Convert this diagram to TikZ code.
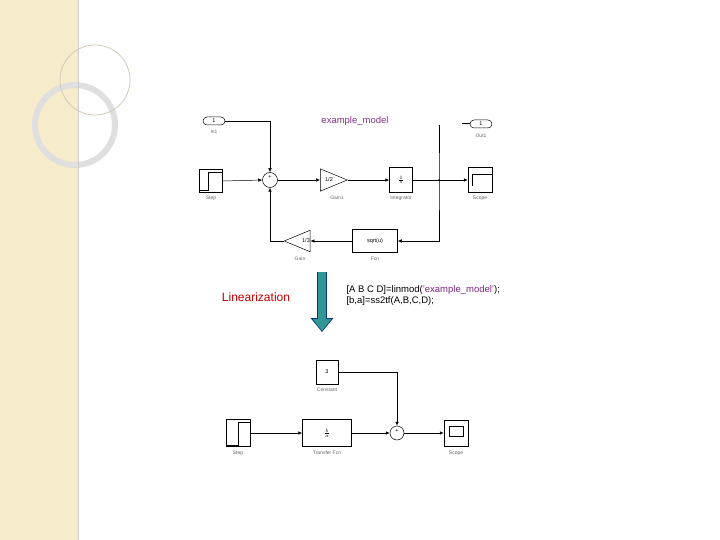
\documentclass[tikz,border=0pt]{standalone}
\usepackage{fontspec}
\setmainfont{Liberation Sans}
\usetikzlibrary{arrows.meta,patterns,shapes.geometric,calc}
\begin{document}
\begin{tikzpicture}[x=1pt,y=-1pt,
 blk/.style={draw,line width=0.5pt,inner sep=0pt},
 lbl/.style={font=\fontsize{5}{5}\selectfont,text=gray!80!black},
 sig/.style={-{Latex[length=4pt,width=3.5pt]},line width=0.5pt},
 txt/.style={font=\fontsize{5.5}{5.5}\selectfont}]
\useasboundingbox (0,0) rectangle (720,540);
\fill[white] (0,0) rectangle (720,540);
\definecolor{tan}{RGB}{246,236,204}
\fill[tan] (0,0) rectangle (78,540);
\draw[gray!25,line width=6pt] (75,125) circle (40);
\draw[tan!70!gray,line width=0.8pt] (95,80) circle (35);
\draw[gray!40] (78,0) -- (78,540);
% top diagram
\node[text=violet!60!gray,font=\fontsize{9.5}{9.5}\selectfont] (title) at (355,121) {example\_model};
\node[blk,draw,rounded corners=4pt,minimum width=22pt,minimum height=8pt,txt] (in1) at (214,121) {1};
\node[lbl] at (214,132) {In1};
\node[blk,minimum width=23pt,minimum height=23pt] (step) at (211,181) {};
\draw (200,190) -- (208,190) -- (208,172) -- (222,172);
\node[lbl] at (211,198) {Step};
\node[blk,circle,minimum size=15pt] (sum) at (270,180) {};
\node[txt] at (270,177) {+};
\node[blk,isosceles triangle,minimum width=16pt,minimum height=27pt,anchor=west,inner sep=0pt] (g1) at (320,180) {};
\node[txt] at (329,180) {1/2};
\node[lbl] at (337,198) {Gain1};
\node[blk,minimum width=23pt,minimum height=25pt,txt] (int) at (401,180) {$\frac{1}{s}$};
\node[lbl] at (401,198) {Integrator};
\node[blk,minimum width=24pt,minimum height=25pt] (scope) at (480,180) {};
\draw (472,186) -- (472,174) -- (492,174);
\node[lbl] at (480,198) {Scope};
\node[blk,rounded corners=4pt,minimum width=22pt,minimum height=8pt,txt] (out1) at (481,124) {1};
\node[lbl] at (481,136) {Out1};
\node[blk,minimum width=45pt,minimum height=23pt,txt] (fcn) at (375,241) {sqrt(u)};
\node[lbl] at (375,259) {Fcn};
\node[blk,isosceles triangle,shape border rotate=180,minimum width=16pt,minimum height=26pt,inner sep=0pt] (g) at (303,241) {};
\node[txt] at (306,241) {1/3};
\node[lbl] at (300,259) {Gain};
\coordinate (br) at (439,180);
\coordinate (top) at (439,125);
\draw[sig] (in1.east) -| (sum.north);
\draw[sig] (step.east) -- (sum.west);
\draw[sig] (sum.east) -- (g1.west);
\draw[sig] (g1.east) -- (int.west);
\draw[sig] (int.east) -- (scope.west);
\fill (br) circle (1pt);
\draw[sig] (top) -- (br) |- (fcn.east);
\draw[sig] ($(fcn.west)+(0,0)$) -- ($(g.east)+(0,0)$);
\draw[sig] (g.west) -| (sum.south);
\draw[line width=1pt] (462,124) -- (out1.west);
% middle
\node[text=red!75!black,font=\fontsize{12}{12}\selectfont] (lin) at (256,297) {Linearization};
\coordinate (a1) at (322,272); \coordinate (a2) at (322,332);
\draw[-{Triangle[length=14pt,width=22pt]},line width=10pt,draw=teal!60!blue!70!black,fill=teal!60!blue!70!black] (a1) -- (a2);
\draw[-{Triangle[length=12pt,width=18pt]},line width=8pt,draw=teal!70!cyan!60!gray] (a1) -- ($(a2)+(0,-1)$);
\node[anchor=west,align=left,font=\fontsize{9.5}{11}\selectfont] (cmd) at (343,296) {[A B C D]=linmod(\textcolor{violet!70!gray}{'example\_model'});\\ {}[b,a]=ss2tf(A,B,C,D);};
% bottom
\node[blk,minimum width=22pt,minimum height=24pt,txt] (const) at (327,372) {3};
\node[lbl] at (327,390) {Constant};
\node[blk,minimum width=24pt,minimum height=27pt] (s2) at (238,433) {};
\draw (226,445) -- (238,445) -- (238,422) -- (250,422);
\node[lbl] at (238,453) {Step};
\node[blk,minimum width=49pt,minimum height=27pt,txt] (tf) at (327,433) {$\frac{b}{a}$};
\node[lbl] at (327,453) {Transfer Fcn};
\node[blk,circle,minimum size=14pt] (sum2) at (397,433) {};
\node[txt] at (397,431) {+};
\node[blk,minimum width=24pt,minimum height=26pt] (sc2) at (456,433) {};
\draw (449,426) rectangle (463,436);
\node[lbl] at (456,453) {Scope};
\draw[sig] (s2.east) -- (tf.west);
\draw[sig] (tf.east) -- (sum2.west);
\draw[sig] (const.east) -| (sum2.north);
\draw[sig] (sum2.east) -- (sc2.west);
\end{tikzpicture}
\end{document}
